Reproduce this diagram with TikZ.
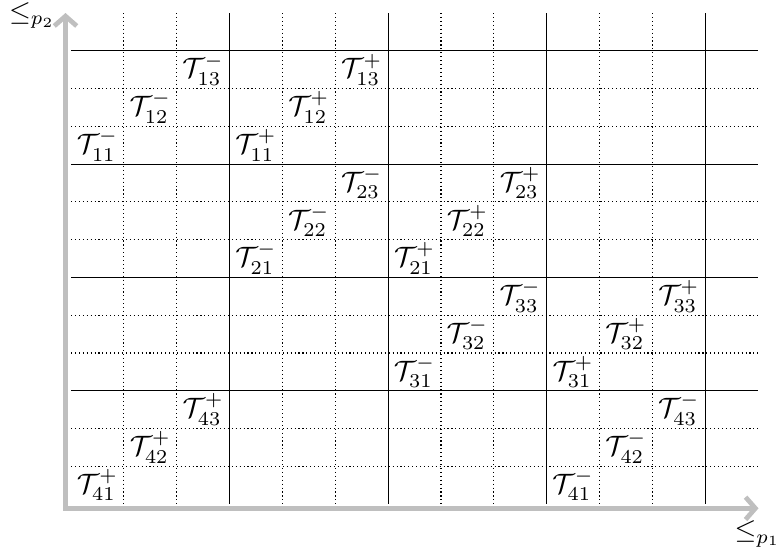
\documentclass[tikz,border=0pt]{standalone}
\usetikzlibrary{arrows.meta}
\begin{document}
\begin{tikzpicture}[x=0.357pt,y=-0.357pt,
  minor/.style={densely dotted, line width=0.4pt},
  major/.style={line width=0.4pt},
  axis/.style={draw=lightgray, line width=1.7pt, {Straight Barb[length=3.5pt,width=8pt]}-{Straight Barb[length=3.5pt,width=8pt]}},
  lab/.style={inner sep=0pt, anchor=center}]
\useasboundingbox (0,0) rectangle (776,554);
\def\cw{52.85}
\def\rh{37.77}
\foreach \i in {1,...,12} {
  \draw[minor] ({71+\cw*\i},13) -- ({71+\cw*\i},504);
  \draw[minor] (71,{13+\rh*\i}) -- (758,{13+\rh*\i});
}
\foreach \i in {3,6,9,12} \draw[major] ({71+\cw*\i},13) -- ({71+\cw*\i},504);
\foreach \j in {1,4,7,10} \draw[major] (71,{13+\rh*\j}) -- (758,{13+\rh*\j});
\foreach \g in {1,...,4} {
  \foreach \k in {1,2,3} {
    \pgfmathtruncatemacro\row{3*\g+1-\k}
    \pgfmathtruncatemacro\mc{3*(\g-1)+\k-1}
    \pgfmathtruncatemacro\pc{mod(3*\g,12)+\k-1}
    \node[lab] (m\g\k) at ({71+\cw*(\mc+0.5)},{13+\rh*(\row+0.5)}) {$\mathcal{T}_{\g\k}^-$};
    \node[lab] (p\g\k) at ({71+\cw*(\pc+0.5)},{13+\rh*(\row+0.5)}) {$\mathcal{T}_{\g\k}^+$};
  }
}
\coordinate (o) at (65.5,508.3);
\coordinate (ytip) at (65.5,13);
\coordinate (xtip) at (758.5,508.3);
\draw[axis] (ytip) -- (o) -- (xtip);
\node[lab] (ly) at (32,15.5) {$\leq_{p_2}$};
\node[lab] (lx) at (757.5,534) {$\leq_{p_1}$};
\end{tikzpicture}
\end{document}
